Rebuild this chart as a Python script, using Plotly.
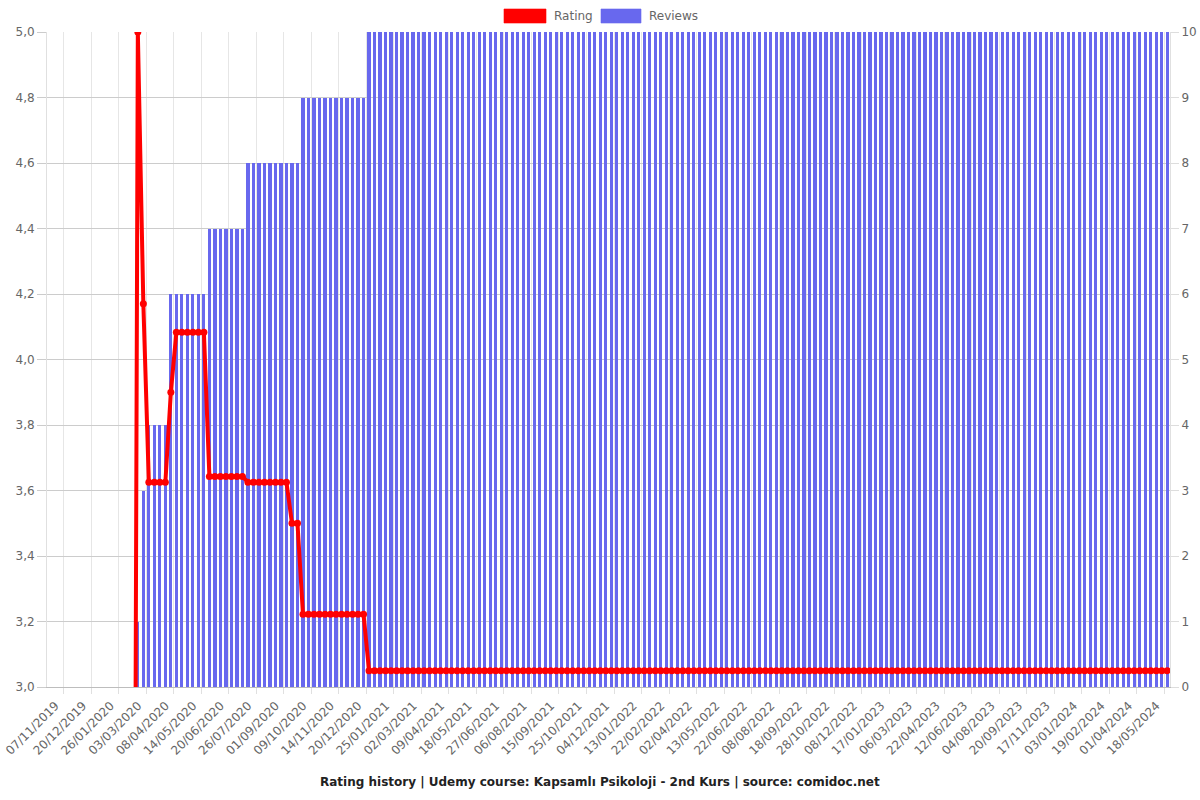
import plotly.graph_objects as go

# ---- data (one value per sampled date, left to right) ----
tick_labels = [
    "07/11/2019", "20/12/2019", "26/01/2020", "03/03/2020", "08/04/2020", "14/05/2020",
    "20/06/2020", "26/07/2020", "01/09/2020", "09/10/2020", "14/11/2020", "20/12/2020",
    "25/01/2021", "02/03/2021", "09/04/2021", "18/05/2021", "27/06/2021", "06/08/2021",
    "15/09/2021", "25/10/2021", "04/12/2021", "13/01/2022", "22/02/2022", "02/04/2022",
    "13/05/2022", "22/06/2022", "08/08/2022", "18/09/2022", "28/10/2022", "08/12/2022",
    "17/01/2023", "06/03/2023", "22/04/2023", "12/06/2023", "04/08/2023", "20/09/2023",
    "17/11/2023", "03/01/2024", "19/02/2024", "01/04/2024", "18/05/2024",
]
# category index at which each tick label sits
tick_index = [3 + 5 * k for k in range(len(tick_labels))]

ratings = [
    0, 0, 0, 0, 0, 0, 0, 0, 0, 0, 0, 0, 0, 0, 0, 0,
    5.0, 4.17, 3.625, 3.625, 3.625, 3.625, 3.9,
    4.083, 4.083, 4.083, 4.083, 4.083, 4.083,
    3.643, 3.643, 3.643, 3.643, 3.643, 3.643, 3.643,
    3.625, 3.625, 3.625, 3.625, 3.625, 3.625, 3.625, 3.625,
    3.5, 3.5,
    3.222, 3.222, 3.222, 3.222, 3.222, 3.222, 3.222, 3.222, 3.222, 3.222, 3.222, 3.222,
    3.05, 3.05, 3.05, 3.05, 3.05, 3.05, 3.05, 3.05, 3.05, 3.05, 3.05, 3.05, 3.05, 3.05, 3.05, 3.05,
    3.05, 3.05, 3.05, 3.05, 3.05, 3.05, 3.05, 3.05, 3.05, 3.05, 3.05, 3.05, 3.05, 3.05, 3.05, 3.05,
    3.05, 3.05, 3.05, 3.05, 3.05, 3.05, 3.05, 3.05, 3.05, 3.05, 3.05, 3.05, 3.05, 3.05, 3.05, 3.05,
    3.05, 3.05, 3.05, 3.05, 3.05, 3.05, 3.05, 3.05, 3.05, 3.05, 3.05, 3.05, 3.05, 3.05, 3.05, 3.05,
    3.05, 3.05, 3.05, 3.05, 3.05, 3.05, 3.05, 3.05, 3.05, 3.05, 3.05, 3.05, 3.05, 3.05, 3.05, 3.05,
    3.05, 3.05, 3.05, 3.05, 3.05, 3.05, 3.05, 3.05, 3.05, 3.05, 3.05, 3.05, 3.05, 3.05, 3.05, 3.05,
    3.05, 3.05, 3.05, 3.05, 3.05, 3.05, 3.05, 3.05, 3.05, 3.05, 3.05, 3.05, 3.05, 3.05, 3.05, 3.05,
    3.05, 3.05, 3.05, 3.05, 3.05, 3.05, 3.05, 3.05, 3.05, 3.05, 3.05, 3.05, 3.05, 3.05, 3.05, 3.05,
    3.05, 3.05, 3.05, 3.05, 3.05, 3.05, 3.05, 3.05, 3.05, 3.05, 3.05, 3.05, 3.05, 3.05, 3.05, 3.05,
    3.05, 3.05,
]

reviews = [
    0, 0, 0, 0, 0, 0, 0, 0, 0, 0, 0, 0, 0, 0, 0, 0,
    1, 3, 4, 4, 4, 4,
    6, 6, 6, 6, 6, 6, 6,
    7, 7, 7, 7, 7, 7, 7,
    8, 8, 8, 8, 8, 8, 8, 8, 8, 8,
    9, 9, 9, 9, 9, 9, 9, 9, 9, 9, 9, 9,
    10, 10, 10, 10, 10, 10, 10, 10, 10, 10, 10, 10, 10, 10, 10, 10,
    10, 10, 10, 10, 10, 10, 10, 10, 10, 10, 10, 10, 10, 10, 10, 10,
    10, 10, 10, 10, 10, 10, 10, 10, 10, 10, 10, 10, 10, 10, 10, 10,
    10, 10, 10, 10, 10, 10, 10, 10, 10, 10, 10, 10, 10, 10, 10, 10,
    10, 10, 10, 10, 10, 10, 10, 10, 10, 10, 10, 10, 10, 10, 10, 10,
    10, 10, 10, 10, 10, 10, 10, 10, 10, 10, 10, 10, 10, 10, 10, 10,
    10, 10, 10, 10, 10, 10, 10, 10, 10, 10, 10, 10, 10, 10, 10, 10,
    10, 10, 10, 10, 10, 10, 10, 10, 10, 10, 10, 10, 10, 10, 10, 10,
    10, 10, 10, 10, 10, 10, 10, 10, 10, 10, 10, 10, 10, 10, 10, 10,
    10, 10,
]

title_text = "Rating history | Udemy course: Kapsamlı Psikoloji - 2nd Kurs | source: comidoc.net"

# ---- styling ----
FONT = "DejaVu Sans"
TICK_COLOR = "#666666"
BAR_COLOR = "rgb(104,104,238)"
LINE_COLOR = "#ff0000"
W, H = 1200, 800
ML, MR, MT, MB = 47, 30, 32, 113
PW, PH = W - ML - MR, H - MT - MB


def px_x(px):
    return (px - ML) / PW


def px_y(py):
    return (H - MB - py) / PH


x = list(range(len(ratings)))

fig = go.Figure()
fig.add_trace(go.Bar(
    x=x, y=reviews, name="Reviews", yaxis="y",
    marker=dict(color=BAR_COLOR, line=dict(width=0)),
    width=0.58,
))
fig.add_trace(go.Scatter(
    x=x, y=ratings, name="Rating", yaxis="y2", mode="lines+markers",
    line=dict(color=LINE_COLOR, width=4),
    marker=dict(color=LINE_COLOR, size=7),
    cliponaxis=True,
))

fig.update_layout(
    width=W, height=H,
    margin=dict(l=ML, r=MR, t=MT, b=MB, autoexpand=False),
    paper_bgcolor="white", plot_bgcolor="white",
    separators=", ",
    showlegend=False,
    font=dict(family=FONT, size=12, color=TICK_COLOR),
    bargap=0,
    xaxis=dict(
        range=[-0.5, len(ratings) - 0.5],
        automargin=False,
        tickmode="array",
        tickvals=[i - 0.5 for i in tick_index],
        ticktext=tick_labels,
        tickangle=-45,
        ticklabelshift=-8,
        ticks="outside", ticklen=6, tickcolor="#e0e0e0",
        showgrid=True, gridcolor="#e6e6e6", gridwidth=1,
        showline=True, linecolor="#bdbdbd", linewidth=1,
        zeroline=False,
        tickfont=dict(family=FONT, size=12, color=TICK_COLOR),
    ),
    yaxis=dict(
        side="right", range=[0, 10], dtick=1, tick0=0,
        automargin=False,
        ticks="outside", ticklen=8, tickcolor="#dddddd",
        showgrid=True, gridcolor="#cccccc", gridwidth=1,
        showline=True, linecolor="#e0e0e0", linewidth=1,
        zeroline=False,
        tickfont=dict(family=FONT, size=12, color=TICK_COLOR),
    ),
    yaxis2=dict(
        side="left", overlaying="y", range=[3, 5], dtick=0.2, tick0=3,
        automargin=False,
        tickformat=".1f",
        ticks="outside", ticklen=9, tickcolor="#cccccc",
        showgrid=False,
        showline=True, linecolor="#e0e0e0", linewidth=1,
        zeroline=False,
        tickfont=dict(family=FONT, size=12, color=TICK_COLOR),
    ),
)

# manual legend (chart-style boxes)
shapes = [
    dict(type="rect", xref="paper", yref="paper",
         x0=px_x(504), x1=px_x(546), y0=px_y(23), y1=px_y(9),
         fillcolor=LINE_COLOR, line=dict(color="rgba(255,0,0,0.6)", width=1)),
    dict(type="rect", xref="paper", yref="paper",
         x0=px_x(601), x1=px_x(641), y0=px_y(23), y1=px_y(9),
         fillcolor=BAR_COLOR, line=dict(color="rgba(104,104,238,0.6)", width=1)),
]
annotations = [
    dict(text="Rating", xref="paper", yref="paper", x=px_x(552), y=px_y(16),
         xanchor="left", yanchor="middle", showarrow=False,
         font=dict(family=FONT, size=12, color=TICK_COLOR)),
    dict(text="Reviews", xref="paper", yref="paper", x=px_x(647), y=px_y(16),
         xanchor="left", yanchor="middle", showarrow=False,
         font=dict(family=FONT, size=12, color=TICK_COLOR)),
    dict(text="<b>" + title_text + "</b>", xref="paper", yref="paper",
         x=px_x(600), y=px_y(782), xanchor="center", yanchor="middle", showarrow=False,
         font=dict(family=FONT, size=12, color="#222222")),
]
fig.update_layout(shapes=shapes, annotations=annotations)

fig.write_html(
    "out.html",
    config={"displayModeBar": False},
    post_script="document.body.style.margin='0';",
)
